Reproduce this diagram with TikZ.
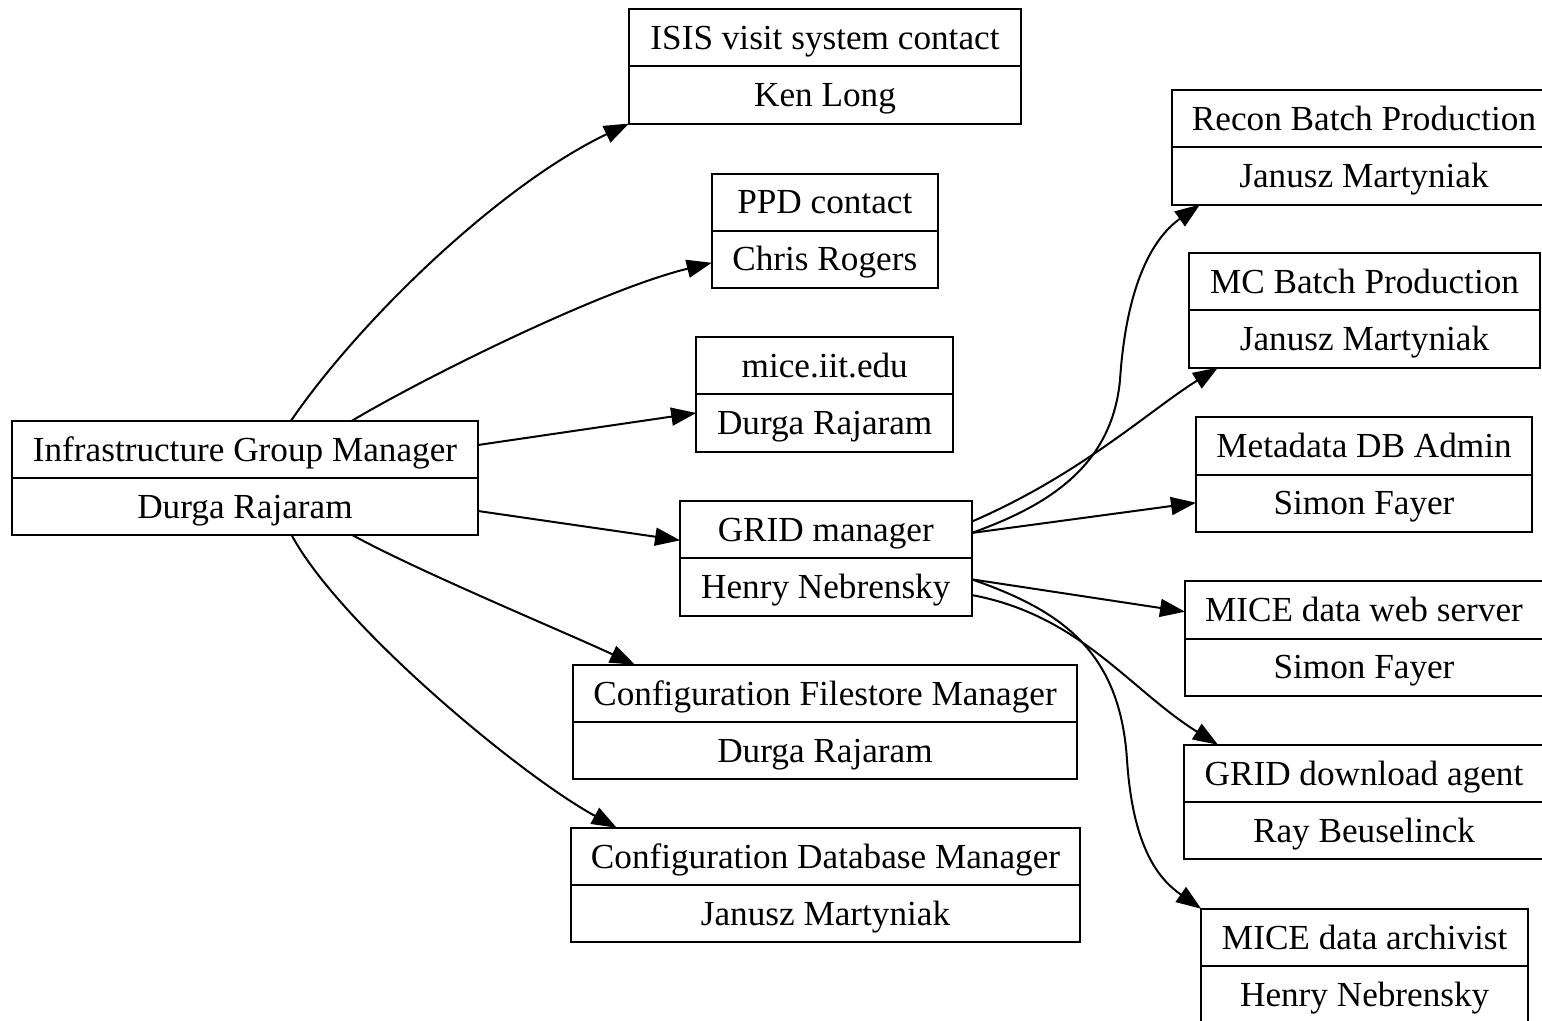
\documentclass[tikz,border=0pt]{standalone}
\usepackage{fontspec}
\setmainfont{Liberation Serif}
\usetikzlibrary{calc,arrows.meta}
\tikzset{
  recbox/.style={draw, line width=1pt, inner sep=0pt, outer sep=0pt, minimum height=57.25pt},
  recsplit/.style={line width=1pt},
  rectext/.style={font=\fontsize{17.6}{20}\selectfont, inner sep=0pt, anchor=base},
  edge/.style={line width=1pt, -{Triangle[length=12.5pt,width=9pt]}},
}
\newcommand{\recnode}[6]{%
  \node[recbox, minimum width={#4*0.5pt}] (#1) at (#2,#3) {};
  \draw[recsplit] (#1.west) -- (#1.east);
  \node[rectext] (#1-a) at ($(#1.center)+(0,-16.8)$) {#5};
  \node[rectext] (#1-b) at ($(#1.center)+(0,40.2)$) {#6};
}
\begin{document}
\begin{tikzpicture}[x=0.5pt,y=-0.5pt]
\fill[white] (0,0) rectangle (1542,1021);
\useasboundingbox (0,0) rectangle (1542,1021);

\recnode{infra}{245}{478}{466}{Infrastructure Group Manager}{Durga Rajaram}
\recnode{isis}{825}{66.3}{392}{ISIS visit system contact}{Ken Long}
\recnode{ppd}{824.8}{230.8}{226}{PPD contact}{Chris Rogers}
\recnode{mice}{824.7}{394.5}{257}{mice.iit.edu}{Durga Rajaram}
\recnode{grid}{825.8}{558.3}{291.5}{GRID manager}{Henry Nebrensky}
\recnode{cfs}{825}{722}{504}{Configuration Filestore Manager}{Durga Rajaram}
\recnode{cdb}{825.5}{885}{509}{Configuration Database Manager}{Janusz Martyniak}
\recnode{recon}{1364}{147.3}{385}{Recon Batch Production}{Janusz Martyniak}
\recnode{mc}{1364.5}{310.3}{351}{MC Batch Production}{Janusz Martyniak}
\recnode{meta}{1364}{474.7}{336}{Metadata DB Admin}{Simon Fayer}
\recnode{web}{1364}{638.7}{358}{MICE data web server}{Simon Fayer}
\recnode{dl}{1364}{802}{360}{GRID download agent}{Ray Beuselinck}
\recnode{arch}{1364.7}{966}{327}{MICE data archivist}{Henry Nebrensky}

% edges from Infrastructure Group Manager
\draw[edge] ($(infra.north west)+(279,0)$) .. controls (360,320) and (500,185) .. (isis.south west);
\draw[edge] ($(infra.north west)+(340,0)$) .. controls (420,380) and (600,290) .. ($(ppd.west)+(0,32)$);
\draw[edge] ($(infra.east)+(0,-33)$) -- ($(mice.west)+(0,18.5)$);
\draw[edge] ($(infra.east)+(0,33)$) -- ($(grid.west)+(0,-18)$);
\draw[edge] ($(infra.south west)+(340.7,0)$) .. controls (420,572) and (560,630) .. ($(cfs.north west)+(62,0)$);
\draw[edge] ($(infra.south west)+(279.7,0)$) .. controls (340,625) and (520,775) .. ($(cdb.north west)+(45.7,0)$);

% edges from GRID manager
\draw[edge] ($(grid.east)+(0,-25.3)$) .. controls (1050,505) and (1112,465) .. (1120,380)
  .. controls (1126,290) and (1150,240) .. ($(recon.south west)+(28.5,0)$);
\draw[edge] ($(grid.east)+(0,-36.6)$) .. controls (1080,475) and (1150,410) .. ($(mc.south west)+(29,0)$);
\draw[edge] ($(grid.east)+(0,-25.3)$) -- ($(meta.west)+(0,28)$);
\draw[edge] ($(grid.east)+(0,21)$) -- ($(web.west)+(0,-27)$);
\draw[edge] ($(grid.east)+(0,36.7)$) .. controls (1080,615) and (1130,690) .. ($(dl.north west)+(34,0)$);
\draw[edge] ($(grid.east)+(0,21)$) .. controls (1060,610) and (1120,650) .. (1127,760)
  .. controls (1133,850) and (1160,880) .. (arch.north west);
\end{tikzpicture}
\end{document}
